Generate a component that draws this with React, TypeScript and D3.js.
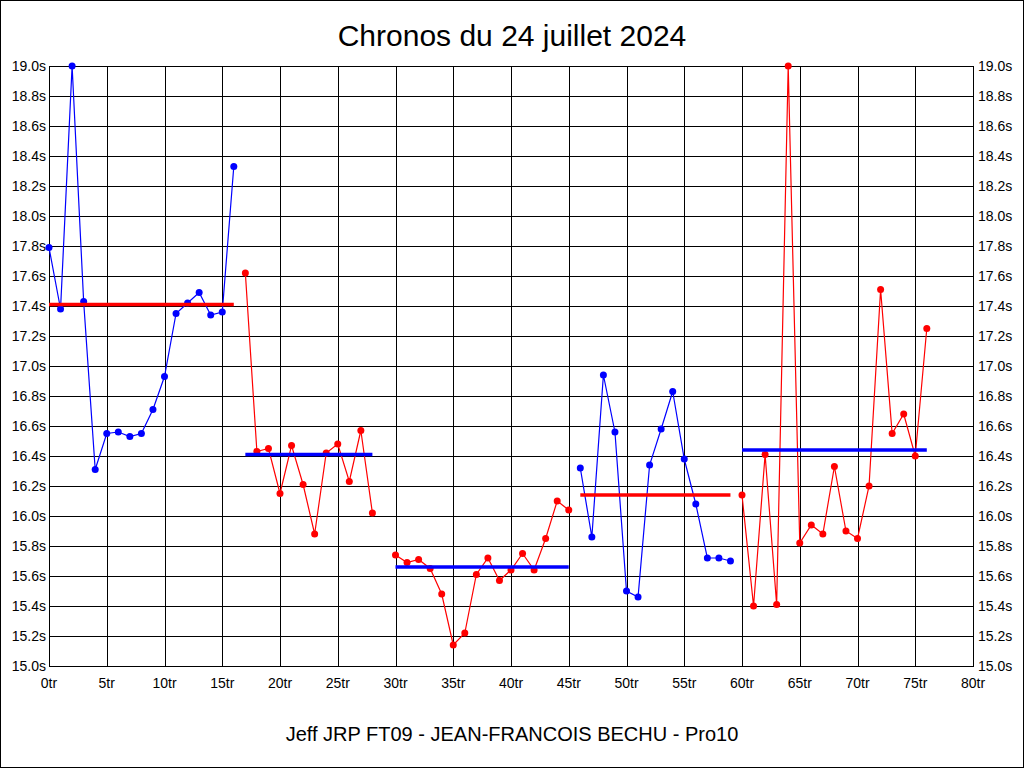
import React from "react";
import * as d3 from "d3";

const title = "Chronos du 24 juillet 2024";
const footer = "Jeff JRP FT09 - JEAN-FRANCOIS BECHU - Pro10";

// Stints: first lap index, lap times (s), line colour, reference (average) line value & colour
const stintStartLap = [0, 17, 30, 46, 60];
const stint1 = [17.79, 17.38, 19.0, 17.43, 16.31, 16.55, 16.56, 16.53, 16.55, 16.71, 16.93, 17.35, 17.42, 17.49, 17.34, 17.36, 18.33];
const stint2 = [17.62, 16.43, 16.45, 16.15, 16.47, 16.21, 15.88, 16.42, 16.48, 16.23, 16.57, 16.02];
const stint3 = [15.74, 15.69, 15.71, 15.65, 15.48, 15.14, 15.22, 15.61, 15.72, 15.57, 15.64, 15.75, 15.64, 15.85, 16.1, 16.04];
const stint4 = [16.32, 15.86, 16.94, 16.56, 15.5, 15.46, 16.34, 16.58, 16.83, 16.38, 16.08, 15.72, 15.72, 15.7];
const stint5 = [16.14, 15.4, 16.41, 15.41, 19.0, 15.82, 15.94, 15.88, 16.33, 15.9, 15.85, 16.2, 17.51, 16.55, 16.68, 16.4, 17.25];
const stintLapTimes = [stint1, stint2, stint3, stint4, stint5];
const stintColors = ["#0000ff", "#ff0000", "#ff0000", "#0000ff", "#ff0000"];
const stintAverages = [17.41, 16.41, 15.66, 16.14, 16.44];
const stintAverageColors = ["#ff0000", "#0000ff", "#0000ff", "#ff0000", "#0000ff"];

const xTicks = d3.range(0, 81, 5);
const yTicks = d3.range(0, 21).map((i) => 15 + i * 0.2);

const W = 1024;
const H = 768;

export default function App() {
  const x = d3.scaleLinear().domain([0, 80]).range([49, 973]);
  const y = d3.scaleLinear().domain([15, 19]).range([666, 66]);
  const font = "'Liberation Sans', Arial, sans-serif";
  const line = d3
    .line<[number, number]>()
    .x((d) => x(d[0]))
    .y((d) => y(d[1]));

  return (
    <svg
      width={W}
      height={H}
      style={{ position: "absolute", left: 0, top: 0, background: "#fff" }}
      fontFamily={font}
    >
      <rect x={0.5} y={0.5} width={W - 1} height={H - 1} fill="#fff" stroke="#000" />
      <text x={512} y={46} textAnchor="middle" fontSize={30} fill="#000">
        {title}
      </text>
      {/* grid */}
      <g stroke="#000" strokeWidth={1} shapeRendering="crispEdges">
        {yTicks.map((t) => (
          <line key={"h" + t} x1={x(0)} x2={x(80)} y1={Math.round(y(t)) + 0.5} y2={Math.round(y(t)) + 0.5} />
        ))}
        {xTicks.map((t) => (
          <line key={"v" + t} x1={Math.round(x(t)) + 0.5} x2={Math.round(x(t)) + 0.5} y1={y(19)} y2={y(15) + 1} />
        ))}
      </g>
      {/* y labels */}
      <g fontSize={14} fill="#000">
        {yTicks.map((t) => (
          <text key={"l" + t} x={46} y={y(t)} dy="0.36em" textAnchor="end">
            {t.toFixed(1) + "s"}
          </text>
        ))}
        {yTicks.map((t) => (
          <text key={"r" + t} x={978} y={y(t)} dy="0.36em" textAnchor="start">
            {t.toFixed(1) + "s"}
          </text>
        ))}
        {xTicks.map((t) => (
          <text key={"x" + t} x={x(t)} y={688} textAnchor="middle">
            {t + "tr"}
          </text>
        ))}
      </g>
      {/* stints */}
      {stintLapTimes.map((times, si) => {
        const pts: [number, number][] = times.map((v, i) => [stintStartLap[si] + i, v]);
        const first = stintStartLap[si];
        const last = first + times.length - 1;
        return (
          <g key={"s" + si}>
            <path d={line(pts) || ""} fill="none" stroke={stintColors[si]} strokeWidth={1.2} />
            {pts.map((p, i) => (
              <circle key={i} cx={x(p[0])} cy={y(p[1])} r={3.5} fill={stintColors[si]} />
            ))}
            <line
              x1={x(first)}
              x2={x(last)}
              y1={y(stintAverages[si])}
              y2={y(stintAverages[si])}
              stroke={stintAverageColors[si]}
              strokeWidth={3.5}
            />
          </g>
        );
      })}
      <text x={512} y={741} textAnchor="middle" fontSize={20} fill="#000">
        {footer}
      </text>
    </svg>
  );
}
